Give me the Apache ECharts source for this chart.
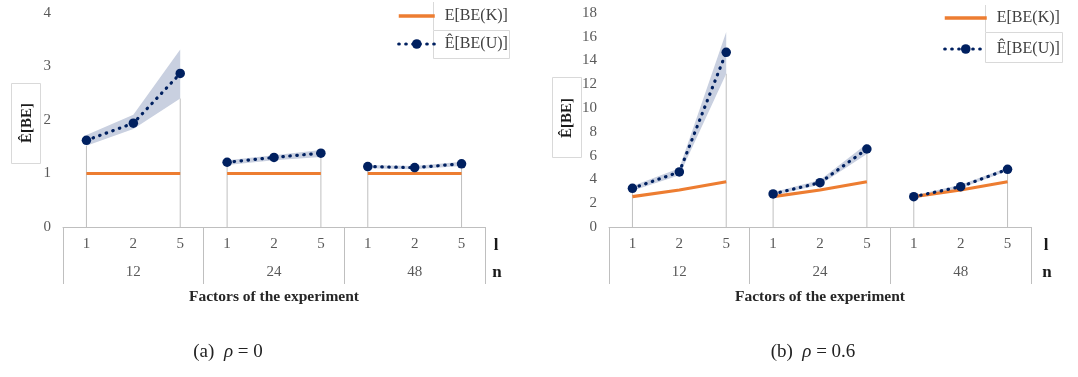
<!DOCTYPE html>
<html>
<head>
<meta charset="utf-8">
<script src="https://cdn.jsdelivr.net/npm/echarts@6/dist/echarts.min.js"></script>
<style>html,body{margin:0;padding:0;background:#fff}#c{width:1078px;height:377px}</style>
</head>
<body>
<div id="c"></div>
<script>
// ---- data ----
const lValues = ['1', '2', '5'];
const nValues = ['12', '24', '48'];
// panel (a) rho = 0
const kA  = [1, 1, 1, 1, 1, 1, 1, 1, 1];
const uA  = [1.62, 1.94, 2.87, 1.21, 1.30, 1.38, 1.13, 1.11, 1.18];
const loA = [1.52, 1.83, 2.40, 1.16, 1.25, 1.31, 1.10, 1.08, 1.14];
const hiA = [1.72, 2.10, 3.32, 1.25, 1.34, 1.44, 1.16, 1.14, 1.22];
// panel (b) rho = 0.6
const kB  = [2.55, 3.11, 3.81, 2.55, 3.11, 3.81, 2.55, 3.11, 3.81];
const uB  = [3.25, 4.63, 14.69, 2.78, 3.73, 6.56, 2.55, 3.39, 4.85];
const loB = [3.05, 4.35, 12.9, 2.65, 3.55, 6.15, 2.45, 3.25, 4.70];
const hiB = [3.45, 4.95, 16.4, 2.92, 3.95, 7.00, 2.65, 3.55, 5.00];
const yMaxA = 4, yStepA = 1;
const yMaxB = 18, yStepB = 2;

const nameK = 'E[BE(K)]';
const nameU = 'Ê[BE(U)]';
const FONT = 'Liberation Serif';
const ORANGE = '#ed7d31', NAVY = '#002060', BAND = '#c9d0e0', GRAYLINE = '#bfbfbf', TXT = '#595959';

const cats = [];
nValues.forEach(() => lValues.forEach(l => cats.push(l)));

function mask(arr, g) { return arr.map((v, i) => Math.floor(i / 3) === g ? v : '-'); }

function panelSeries(p, k, u, lo, hi) {
  const s = [];
  s.push({
    type: 'bar', xAxisIndex: p * 2, yAxisIndex: p, barWidth: 1, silent: true,
    itemStyle: { color: GRAYLINE },
    data: lo.map((v, i) => (i % 3 !== 1 ? v : '-'))
  });
  for (let g = 0; g < nValues.length; g++) {
    s.push({
      type: 'line', name: 'band', xAxisIndex: p * 2, yAxisIndex: p, stack: 'b' + p + g,
      symbol: 'none', lineStyle: { opacity: 0 }, data: mask(lo, g), silent: true
    });
    s.push({
      type: 'line', name: 'band', xAxisIndex: p * 2, yAxisIndex: p, stack: 'b' + p + g,
      symbol: 'none', lineStyle: { opacity: 0 }, areaStyle: { color: BAND, opacity: 1 },
      data: mask(hi.map((v, i) => +(v - lo[i]).toFixed(3)), g), silent: true
    });
  }
  for (let g = 0; g < nValues.length; g++) {
    s.push({
      type: 'line', name: nameK, xAxisIndex: p * 2, yAxisIndex: p, symbol: 'none',
      lineStyle: { color: ORANGE, width: 3.2 }, itemStyle: { color: ORANGE },
      data: mask(k, g)
    });
  }
  for (let g = 0; g < nValues.length; g++) {
    s.push({
      type: 'line', name: nameU, xAxisIndex: p * 2, yAxisIndex: p, symbol: 'circle', symbolSize: 9.5,
      lineStyle: { color: NAVY, width: 3.2, type: [0.5, 6.5], cap: 'round' },
      itemStyle: { color: NAVY }, z: 5,
      data: mask(u, g)
    });
  }
  return s;
}

function xAxes(p) {
  return [{
    type: 'category', gridIndex: p, data: cats, boundaryGap: true, position: 'bottom',
    axisLine: { show: true, lineStyle: { color: GRAYLINE, width: 1 } },
    axisTick: { show: false },
    axisLabel: { color: TXT, fontFamily: FONT, fontSize: 15, margin: 10, interval: 0 }
  }, {
    type: 'category', gridIndex: p, data: nValues, boundaryGap: true, position: 'bottom',
    axisLine: { show: false },
    axisTick: { show: true, length: 57, lineStyle: { color: GRAYLINE, width: 1 } },
    axisLabel: { color: TXT, fontFamily: FONT, fontSize: 15, margin: 38 },
    name: 'Factors of the experiment', nameLocation: 'middle', nameGap: 62,
    nameTextStyle: { fontFamily: FONT, fontSize: 15.5, fontWeight: 'bold', color: '#262626' }
  }];
}

function yAxis(p, max, step) {
  return {
    type: 'value', gridIndex: p, min: 0, max: max, interval: step,
    axisLine: { show: false }, axisTick: { show: false }, splitLine: { show: false },
    axisLabel: { color: TXT, fontFamily: FONT, fontSize: 15, margin: 12 }
  };
}

function legend(left, top, w, gap) {
  return {
    left: left, top: top, orient: 'vertical', itemWidth: w, itemHeight: 12, itemGap: gap, padding: 0,
    data: [
      { name: nameK, itemStyle: { opacity: 0 }, lineStyle: { width: 3.5, color: ORANGE } },
      { name: nameU, lineStyle: { width: 3.2, color: NAVY, type: [0.5, 6.5], cap: 'round' } }
    ],
    selectedMode: false,
    textStyle: { fontFamily: FONT, fontSize: 16, color: '#404040', lineHeight: 18, padding: [0, 0, 0, 5] }
  };
}

function boxText(cx, cy, text, size) {
  return { type: 'text', x: cx, y: cy, rotation: Math.PI / 2,
    style: { text: text, align: 'center', verticalAlign: 'middle', font: 'bold ' + size + 'px ' + FONT, fill: '#1a1a1a' } };
}
function plain(x, y, text, font, fill, align) {
  return { type: 'text', x: x, y: y, style: { text: text, align: align || 'center', verticalAlign: 'middle', font: font, fill: fill } };
}
function rect(x, y, w, h) {
  return { type: 'rect', shape: { x: x + 0.5, y: y + 0.5, width: w, height: h }, style: { fill: null, stroke: '#d9d9d9', lineWidth: 1 } };
}
function vline(x, y1, y2) {
  return { type: 'line', shape: { x1: x + 0.5, y1: y1, x2: x + 0.5, y2: y2 }, style: { stroke: '#d9d9d9', lineWidth: 1 } };
}
function caption(cx, label, val) {
  return { type: 'text', x: cx, y: 352, style: { text: label + '  {i|ρ} = ' + val, align: 'center', verticalAlign: 'middle',
    font: '19px ' + FONT, fill: '#222', rich: { i: { fontStyle: 'italic', fontSize: 19, fontFamily: FONT } } } };
}

const chart = echarts.init(document.getElementById('c'));
chart.setOption({
  animation: false,
  backgroundColor: '#fff',
  grid: [
    { left: 63, top: 13, width: 422, height: 214 },
    { left: 609, top: 13, width: 422, height: 214 }
  ],
  xAxis: xAxes(0).concat(xAxes(1)),
  yAxis: [yAxis(0, yMaxA, yStepA), yAxis(1, yMaxB, yStepB)],
  legend: [legend(397, 7, 36, 10), legend(943, 9, 42, 13)],
  series: panelSeries(0, kA, uA, loA, hiA).concat(panelSeries(1, kB, uB, loB, hiB)),
  graphic: [
    rect(11, 83, 29, 80), boxText(27, 123, 'Ê[BE]', 15),
    rect(552, 77, 29, 80), boxText(567, 118, 'Ê[BE]', 15),
    vline(433, 2, 30), rect(433, 30, 76, 28),
    vline(985, 5, 32), rect(985, 32, 77, 30),
    plain(496, 246, 'l', 'bold 17px ' + FONT, '#1a1a1a'),
    plain(497, 273, 'n', 'bold 17px ' + FONT, '#1a1a1a'),
    plain(1046, 246, 'l', 'bold 17px ' + FONT, '#1a1a1a'),
    plain(1047, 273, 'n', 'bold 17px ' + FONT, '#1a1a1a'),
    caption(228, '(a)', '0'),
    caption(813, '(b)', '0.6')
  ]
});
</script>
</body>
</html>
